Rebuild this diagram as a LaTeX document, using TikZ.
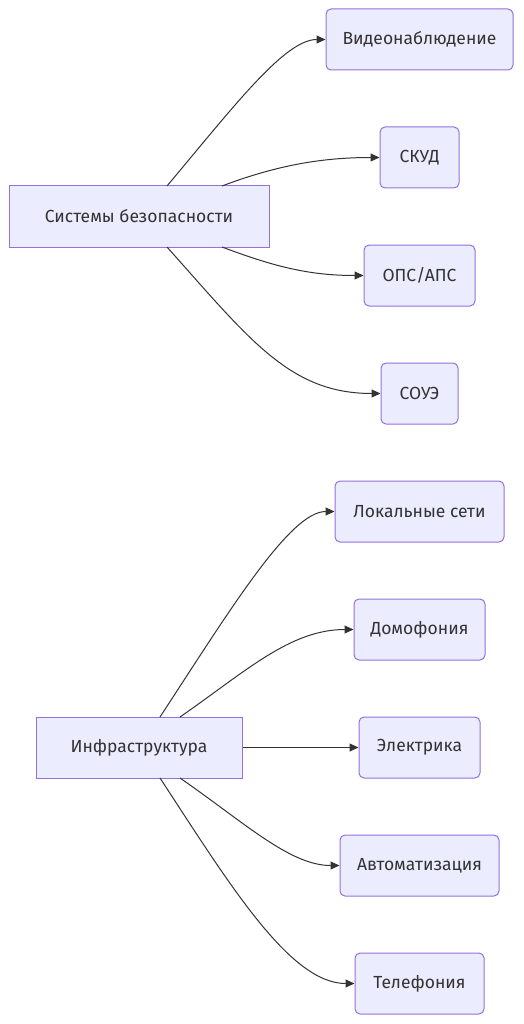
\documentclass[tikz,border=0pt]{standalone}
\usepackage{fontspec}
\setmainfont{Fira Sans}
\usetikzlibrary{arrows.meta}
\definecolor{nfill}{HTML}{ECECFF}
\definecolor{nstroke}{HTML}{9370DB}
\definecolor{ink}{HTML}{333333}
\tikzset{
  base/.style={draw=nstroke, fill=nfill, line width=1pt, text=ink, inner sep=0pt, minimum height=61pt, font=\fontsize{17.5}{21}\selectfont},
  rootbox/.style={base},
  leafbox/.style={base, rounded corners=5pt},
  conn/.style={draw=ink, line width=1pt, -{Triangle[length=9pt,width=8pt]}}
}
\begin{document}
\begin{tikzpicture}[x=1pt,y=-1pt]
\useasboundingbox (0,0) rectangle (524,1024);
\node[rootbox, minimum width=260pt] (sec) at (139,216.5) {Системы безопасности};
\node[leafbox, minimum width=187pt] (video) at (419.5,39.5) {Видеонаблюдение};
\node[leafbox, minimum width=79pt] (skud) at (419.5,157.5) {СКУД};
\node[leafbox, minimum width=111pt] (ops) at (419.5,275.5) {ОПС/АПС};
\node[leafbox, minimum width=77pt] (soue) at (419.5,393.5) {СОУЭ};
\node[rootbox, minimum width=206pt] (infra) at (139,747.5) {Инфраструктура};
\node[leafbox, minimum width=169pt] (lan) at (419.5,511.5) {Локальные сети};
\node[leafbox, minimum width=131pt] (dom) at (419.5,629.5) {Домофония};
\node[leafbox, minimum width=121pt] (el) at (419.5,747.5) {Электрика};
\node[leafbox, minimum width=159pt] (auto) at (419.5,865.5) {Автоматизация};
\node[leafbox, minimum width=129pt] (tel) at (419.5,983.5) {Телефония};
\coordinate (s1) at (167,186);
\coordinate (s2) at (222,186);
\coordinate (s3) at (222,247);
\coordinate (s4) at (167,247);
\coordinate (i1) at (160,717);
\coordinate (i2) at (180,717);
\coordinate (i4) at (180,778);
\coordinate (i5) at (160,778);
\draw[conn] (s1) .. controls (235,105) and (285,39.5) .. (video.west);
\draw[conn] (s2) .. controls (275,166) and (320,157.5) .. (skud.west);
\draw[conn] (s3) .. controls (275,267) and (310,275.5) .. (ops.west);
\draw[conn] (s4) .. controls (250,340) and (290,393.5) .. (soue.west);
\draw[conn] (i1) .. controls (230,610) and (290,511.5) .. (lan.west);
\draw[conn] (i2) .. controls (245,672) and (290,629.5) .. (dom.west);
\draw[conn] (infra.east) -- (el.west);
\draw[conn] (i4) .. controls (245,823) and (290,865.5) .. (auto.west);
\draw[conn] (i5) .. controls (230,885) and (290,983.5) .. (tel.west);
\end{tikzpicture}
\end{document}
